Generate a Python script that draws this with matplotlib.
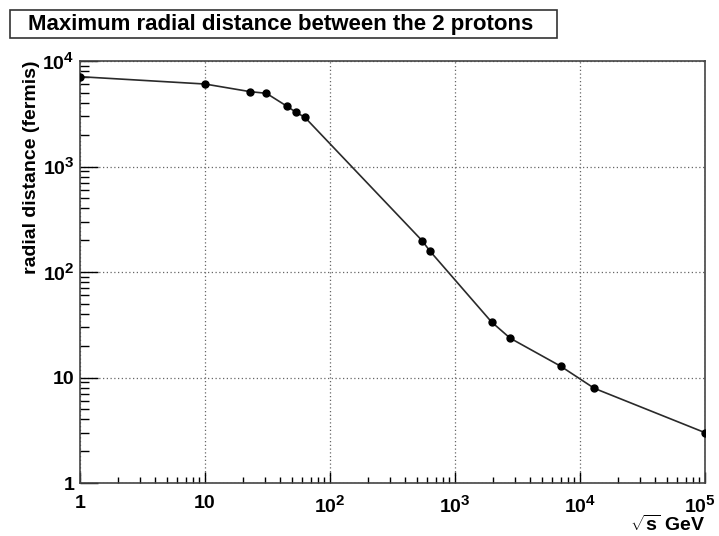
import matplotlib
matplotlib.use("Agg")
import matplotlib.pyplot as plt
import matplotlib._mathtext as _mt
from matplotlib.ticker import LogLocator, NullFormatter
from matplotlib.patches import Rectangle
from matplotlib.transforms import ScaledTranslation

sqrt_s = [1, 10, 23, 31, 45, 53, 63, 546, 630, 1960, 2760, 7000, 13000, 100000]
radial = [7100, 6050, 5120, 4940, 3740, 3290, 2920, 198, 158, 33.6, 23.6, 12.8, 7.9, 3.0]
x_ticks = [1, 10, 100, 1000, 10000, 100000]
x_ticklabels = ["1", "10", r"$\mathbf{10^{2}}$", r"$\mathbf{10^{3}}$", r"$\mathbf{10^{4}}$", r"$\mathbf{10^{5}}$"]
y_ticks = [1, 10, 100, 1000, 10000]
y_ticklabels = ["1", "10", r"$\mathbf{10^{2}}$", r"$\mathbf{10^{3}}$", r"$\mathbf{10^{4}}$"]
title = "Maximum radial distance between the 2 protons"
xlabel = r"$\mathbf{\sqrt{s}}$ GeV"
ylabel = "radial distance (fermis)"

_mt.SHRINK_FACTOR = 0.78

plt.rcParams['font.family'] = ['Liberation Sans', 'DejaVu Sans']
plt.rcParams['font.weight'] = 'bold'
plt.rcParams['mathtext.fontset'] = 'custom'
plt.rcParams['mathtext.rm'] = 'Liberation Sans:bold'
plt.rcParams['mathtext.bf'] = 'Liberation Sans:bold'
plt.rcParams['mathtext.it'] = 'Liberation Sans:bold'
plt.rcParams['mathtext.default'] = 'bf'

W, H = 719, 536
fig = plt.figure(figsize=(W / 100, H / 100), dpi=100)
ax = fig.add_axes([80 / W, 1 - 483 / H, 625 / W, 422 / H])

ax.plot(sqrt_s, radial, color='#2a2a2a', lw=1.2, marker='o', ms=5,
        mfc='black', mec='black', zorder=3)
ax.set_xscale('log')
ax.set_yscale('log')
ax.set_xlim(1, 1e5)
ax.set_ylim(1, 1e4)

ax.set_xticks(x_ticks)
ax.set_xticklabels(x_ticklabels)
ax.set_yticks(y_ticks)
ax.set_yticklabels(y_ticklabels)
ax.xaxis.set_minor_locator(LogLocator(base=10, subs=range(2, 10), numticks=20))
ax.yaxis.set_minor_locator(LogLocator(base=10, subs=range(2, 10), numticks=20))
ax.xaxis.set_minor_formatter(NullFormatter())
ax.yaxis.set_minor_formatter(NullFormatter())

ax.tick_params(axis='x', which='major', direction='in', length=8, width=1, labelsize=14, pad=9, top=False)
ax.tick_params(axis='x', which='minor', direction='in', length=4.5, width=1, top=False)
ax.tick_params(axis='y', which='major', direction='in', length=13, width=1, labelsize=14, pad=4, right=False)
ax.tick_params(axis='y', which='minor', direction='in', length=6.5, width=1, right=False)
for lab in ax.get_xticklabels() + ax.get_yticklabels():
    lab.set_fontweight('bold')

ax.grid(True, which='major', linestyle=(0, (1, 2)), color='#666666', lw=0.9)
for s in ax.spines.values():
    s.set_color('#444444')
    s.set_linewidth(1.2)

ax.set_ylabel(ylabel, fontsize=14, fontweight='bold')
ax.yaxis.label.set_horizontalalignment('right')
ax.yaxis.set_label_coords(-0.064, 1.0)
fig.text(705 / W, 1 - 525 / H, xlabel, fontsize=14, fontweight='bold', ha='right', va='center')

fig.patches.append(Rectangle((10 / W, 1 - 38 / H), 547 / W, 28 / H, transform=fig.transFigure,
                             fill=False, edgecolor='#333333', lw=1.2))
fig.text(28 / W, 1 - 24.5 / H, title, fontsize=16, fontweight='bold', ha='left', va='center')

fig.canvas.draw()
last = ax.xaxis.get_major_ticks()[-1].label1
last.set_transform(last.get_transform() + ScaledTranslation(-5 / 100, 0, fig.dpi_scale_trans))

fig.savefig("out.png", dpi=100)
